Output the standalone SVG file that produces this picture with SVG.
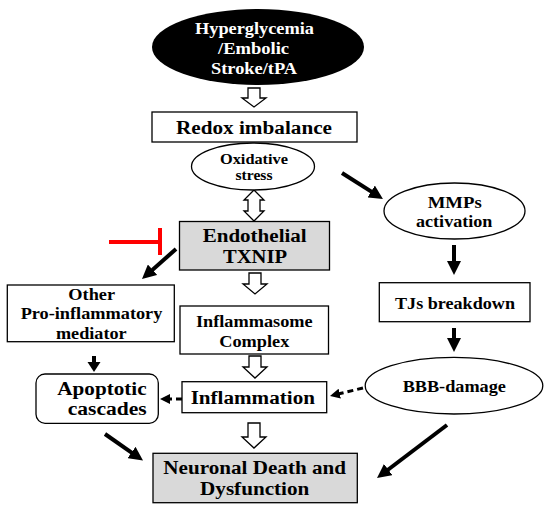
<svg xmlns="http://www.w3.org/2000/svg" width="550" height="511" viewBox="0 0 550 511">
<defs>
<style>
.t{font-family:"Liberation Serif","Times New Roman",serif;font-weight:bold;fill:#000;text-anchor:middle}
.w{fill:#fff}
.box{fill:#fff;stroke:#000;stroke-width:1.3}
.gray{fill:#d9d9d9;stroke:#000;stroke-width:1.3}
.open{fill:#fff;stroke:#000;stroke-width:1.3;stroke-linejoin:miter}
.arr{stroke:#000;stroke-width:4;fill:none;marker-end:url(#ah)}
.dash{stroke:#000;stroke-width:3;fill:none;stroke-dasharray:6 4;marker-end:url(#ahs)}
</style>
<marker id="ah" markerUnits="userSpaceOnUse" markerWidth="14" markerHeight="14" refX="4" refY="7" orient="auto">
<path d="M0,0 L14,7 L0,14 z" fill="#000"/>
</marker>
<marker id="ahs" markerUnits="userSpaceOnUse" markerWidth="10" markerHeight="10" refX="3" refY="5" orient="auto">
<path d="M0,0 L10,5 L0,10 z" fill="#000"/>
</marker>
</defs>
<rect width="550" height="511" fill="#fff"/>

<g id="connectors">
<path class="open" d="M248,88 H260 V98 H266 L254,107 L242,98 H248 Z"/>
<path class="open" d="M254,190 L264,200 H260 V211 H264 L254,221 L244,211 H248 V200 H244 Z"/>
<path class="open" d="M249,273 H261 V284 H267 L255,294 L243,284 H249 Z"/>
<path class="open" d="M249,356 H261 V367 H267 L255,378 L243,367 H249 Z"/>
<path class="open" d="M248,423 H260 V437 H266 L254,448 L242,437 H248 Z"/>
<line class="arr" x1="342" y1="173" x2="374.5" y2="193.6"/>
<line class="arr" x1="454" y1="245" x2="454" y2="265"/>
<line class="arr" x1="454" y1="328" x2="454" y2="342"/>
<line class="arr" x1="447" y1="425" x2="385" y2="472"/>
<line class="arr" x1="105" y1="434" x2="134.8" y2="454.8"/>
<line class="arr" x1="176" y1="249" x2="149.5" y2="272.4"/>
<line x1="94" y1="356" x2="94" y2="364" stroke="#000" stroke-width="4"/>
<path d="M87.5,362 L100.5,362 L94,372 Z" fill="#000"/>
<line class="dash" x1="363" y1="388" x2="336.8" y2="394.3"/>
<line class="dash" x1="182" y1="399" x2="167" y2="399"/>
<g stroke="#ff0000" stroke-width="4">
<line x1="109" y1="242" x2="160" y2="242"/>
<line x1="160" y1="228" x2="160" y2="255"/>
</g>
</g>

<g id="hyperglycemia">
<ellipse cx="258" cy="47" rx="106" ry="38" fill="#000"/>
<text class="t w" x="254.5" y="34" font-size="16" textLength="119" lengthAdjust="spacingAndGlyphs">Hyperglycemia</text>
<text class="t w" x="253.5" y="54" font-size="16" textLength="71" lengthAdjust="spacingAndGlyphs">/Embolic</text>
<text class="t w" x="254" y="74" font-size="16" textLength="86" lengthAdjust="spacingAndGlyphs">Stroke/tPA</text>
</g>

<g id="redox">
<rect class="box" x="152" y="112" width="205" height="30"/>
<text class="t" x="254" y="134" font-size="18.6" textLength="156" lengthAdjust="spacingAndGlyphs">Redox imbalance</text>
</g>

<g id="oxidative">
<ellipse class="box" cx="253" cy="166.5" rx="61.5" ry="23.5"/>
<text class="t" x="254" y="164" font-size="14" textLength="68" lengthAdjust="spacingAndGlyphs">Oxidative</text>
<text class="t" x="254" y="180" font-size="14" textLength="37" lengthAdjust="spacingAndGlyphs">stress</text>
</g>

<g id="txnip">
<rect class="gray" x="179.5" y="221.5" width="150" height="48.5"/>
<text class="t" x="254.7" y="242" font-size="18.4" textLength="104" lengthAdjust="spacingAndGlyphs">Endothelial</text>
<text class="t" x="255" y="263" font-size="18.4" textLength="64" lengthAdjust="spacingAndGlyphs">TXNIP</text>
</g>

<g id="inflammasome">
<rect class="box" x="180" y="306" width="148.5" height="48"/>
<text class="t" x="254.3" y="327" font-size="16" textLength="116.7" lengthAdjust="spacingAndGlyphs">Inflammasome</text>
<text class="t" x="254.3" y="347" font-size="16" textLength="70" lengthAdjust="spacingAndGlyphs">Complex</text>
</g>

<g id="inflammation">
<rect class="box" x="182" y="381.7" width="144.7" height="31"/>
<text class="t" x="252.8" y="403.5" font-size="18.5" textLength="124.3" lengthAdjust="spacingAndGlyphs">Inflammation</text>
</g>

<g id="neuronal">
<rect class="gray" x="153" y="453.3" width="204.3" height="49.4"/>
<text class="t" x="254.7" y="473.5" font-size="18.5" textLength="182.7" lengthAdjust="spacingAndGlyphs">Neuronal Death and</text>
<text class="t" x="254.7" y="494.5" font-size="18.5" textLength="109.3" lengthAdjust="spacingAndGlyphs">Dysfunction</text>
</g>

<g id="mmps">
<ellipse class="box" cx="454.5" cy="211" rx="70.5" ry="28"/>
<text class="t" x="454.7" y="207.5" font-size="16" textLength="54" lengthAdjust="spacingAndGlyphs">MMPs</text>
<text class="t" x="454.2" y="226.7" font-size="16" textLength="76.3" lengthAdjust="spacingAndGlyphs">activation</text>
</g>

<g id="tjs">
<rect class="box" x="379.3" y="282.7" width="150.7" height="39"/>
<text class="t" x="455" y="308.5" font-size="16.5" textLength="120" lengthAdjust="spacingAndGlyphs">TJs breakdown</text>
</g>

<g id="bbb">
<ellipse class="box" cx="454" cy="385.7" rx="88.8" ry="28.3"/>
<text class="t" x="454.3" y="391.7" font-size="16" textLength="103.3" lengthAdjust="spacingAndGlyphs">BBB-damage</text>
</g>

<g id="other">
<rect class="box" x="7.3" y="285" width="167" height="56.7"/>
<text class="t" x="91.7" y="300" font-size="16" textLength="46.7" lengthAdjust="spacingAndGlyphs">Other</text>
<text class="t" x="91.5" y="319" font-size="16" textLength="141.7" lengthAdjust="spacingAndGlyphs">Pro-inflammatory</text>
<text class="t" x="91.3" y="339" font-size="16" textLength="70.7" lengthAdjust="spacingAndGlyphs">mediator</text>
</g>

<g id="apoptotic">
<rect class="box" x="36" y="374" width="122.3" height="49.3" rx="9"/>
<text class="t" x="102" y="395" font-size="18.5" textLength="89.3" lengthAdjust="spacingAndGlyphs">Apoptotic</text>
<text class="t" x="107.2" y="415" font-size="18.5" textLength="79" lengthAdjust="spacingAndGlyphs">cascades</text>
</g>
</svg>
